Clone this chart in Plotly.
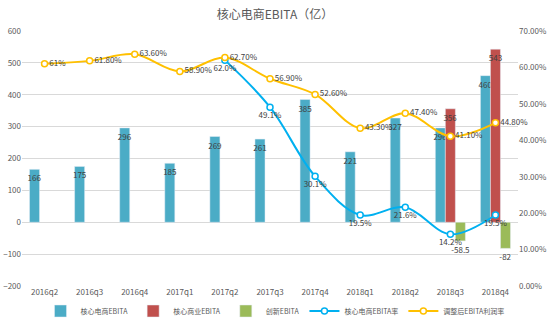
import plotly.graph_objects as go

quarters = ["2016q2", "2016q3", "2016q4", "2017q1", "2017q2", "2017q3",
            "2017q4", "2018q1", "2018q2", "2018q3", "2018q4"]
core_ebita = [166, 175, 296, 185, 269, 261, 385, 221, 327, 296, 460]
commerce_ebita = [None] * 9 + [356, 543]
new_ebita = [None] * 9 + [-58.5, -82]
core_margin = [None] * 4 + [62.0, 49.1, 30.1, 19.5, 21.6, 14.2, 19.5]
adj_margin = [61, 61.8, 63.6, 58.9, 62.7, 56.9, 52.6, 43.3, 47.4, 41.1, 44.8]

names = ["核心电商EBITA", "核心商业EBITA", "创新EBITA", "核心电商EBITA率", "调整后EBITA利润率"]

FONT = "Noto Sans CJK SC"
GRAY = "#595959"
LBL = "#404040"
FS = 8


def fmt(v):
    return "" if v is None else f"{v:g}"


fig = go.Figure()

fig.add_trace(go.Bar(
    x=quarters, y=core_ebita, name=names[0], marker_color="#4BACC6",
    text=[fmt(v) for v in core_ebita], textposition="inside", insidetextanchor="end",
    textangle=0, constraintext="none", textfont=dict(size=FS, color=LBL, family=FONT),
))
fig.add_trace(go.Bar(
    x=quarters, y=commerce_ebita, name=names[1], marker_color="#C0504D",
    text=[fmt(v) for v in commerce_ebita], textposition="inside", insidetextanchor="end",
    textangle=0, constraintext="none", textfont=dict(size=FS, color=LBL, family=FONT),
))
fig.add_trace(go.Bar(
    x=quarters, y=new_ebita, name=names[2], marker_color="#9BBB59",
    text=[fmt(v) for v in new_ebita], textposition="outside",
    textangle=0, constraintext="none", cliponaxis=False,
    textfont=dict(size=FS, color=LBL, family=FONT),
))

fig.add_trace(go.Scatter(
    x=quarters, y=core_margin, yaxis="y2", name=names[3],
    mode="lines+markers+text", line=dict(color="#00B0F0", width=2, shape="spline"),
    marker=dict(symbol="circle", size=6, color="white", line=dict(color="#00B0F0", width=1.5)),
    text=["" if v is None else f"{v:.1f}%" for v in core_margin],
    textposition="bottom center", textfont=dict(size=FS, color=LBL, family=FONT),
    cliponaxis=False,
))

adj_text = [f"{v:g}%" if i == 0 else f"{v:.2f}%" for i, v in enumerate(adj_margin)]
fig.add_trace(go.Scatter(
    x=quarters, y=adj_margin, yaxis="y2", name=names[4],
    mode="lines+markers+text", line=dict(color="#FFC000", width=2, shape="spline"),
    marker=dict(symbol="circle", size=6, color="white", line=dict(color="#FFC000", width=1.5)),
    text=adj_text, textposition="middle right",
    textfont=dict(size=FS, color=LBL, family=FONT), cliponaxis=False,
))

fig.update_layout(
    width=550, height=322,
    margin=dict(l=22, r=32, t=31, b=36, autoexpand=False),
    paper_bgcolor="white", plot_bgcolor="white",
    font=dict(family=FONT, size=FS, color=GRAY),
    title=dict(text="核心电商EBITA（亿）", x=0.5, xanchor="center",
               y=1 - 15 / 322, yanchor="middle", yref="container",
               font=dict(size=12, color=GRAY, family=FONT)),
    barmode="group", bargap=1 / 3, bargroupgap=0,
    xaxis=dict(type="category", range=[-0.5, len(quarters) - 0.5], showgrid=False,
               showline=False, ticks="", automargin=False,
               tickfont=dict(size=FS, color=GRAY)),
    yaxis=dict(range=[-200, 600], dtick=100, showgrid=True, gridcolor="#D9D9D9",
               gridwidth=1, zeroline=False, showline=False, ticks="", automargin=False,
               tickfont=dict(size=FS, color=GRAY)),
    yaxis2=dict(overlaying="y", side="right", range=[0, 70], dtick=10,
                tickformat=".2f", ticksuffix="%", showgrid=False, zeroline=False,
                showline=False, ticks="", automargin=False,
                tickfont=dict(size=FS, color=GRAY)),
    legend=dict(orientation="h", x=0.5, xanchor="center", xref="container",
                y=1 - 311 / 322, yanchor="middle", yref="container",
                font=dict(size=7, color=GRAY), traceorder="normal",
                itemwidth=30, tracegroupgap=0, bgcolor="rgba(0,0,0,0)"),
    showlegend=True,
)

fig.write_html("out.html")
